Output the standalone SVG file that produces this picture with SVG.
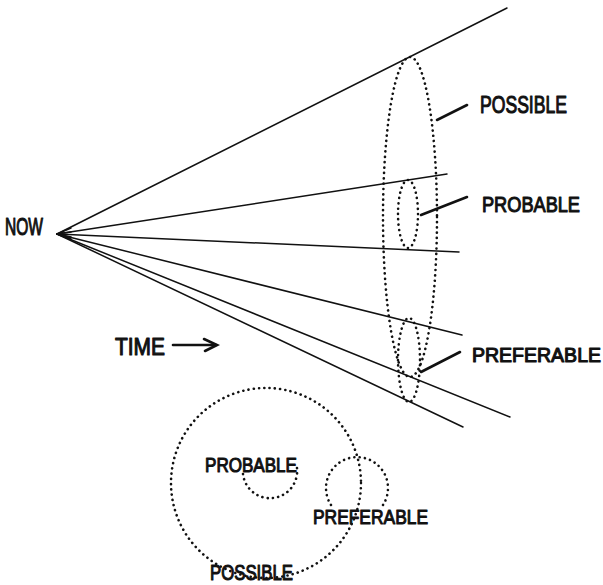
<svg xmlns="http://www.w3.org/2000/svg" width="603" height="585" viewBox="0 0 603 585">
<style>
.t{font-family:"Liberation Sans",Arial,sans-serif;fill:#111;stroke:#111;stroke-width:1.1;stroke-linejoin:round}
.ln{stroke:#111;stroke-width:1.5;fill:none;stroke-linecap:round}
.pt{stroke:#111;stroke-width:2.6;fill:none;stroke-linecap:round}
.dot{stroke:#111;stroke-width:2.6;fill:none;stroke-linecap:round;stroke-dasharray:0.1 5.2}
</style>
<rect width="603" height="585" fill="#fff"/>
<g id="connectors">
<line class="ln" x1="57" y1="234" x2="507" y2="8"/>
<line class="ln" x1="57" y1="234" x2="447" y2="174"/>
<line class="ln" x1="57" y1="234" x2="459" y2="252"/>
<line class="ln" x1="57" y1="234" x2="462" y2="335"/>
<line class="ln" x1="57" y1="234" x2="510" y2="417"/>
<line class="ln" x1="57" y1="234" x2="463" y2="427"/>
<path class="ln" d="M57,234 l14,-6 M57,234 l14,-2 M57,234 l14,3 M57,234 l14,5" stroke-width="2.5"/>
<line class="pt" x1="173" y1="345" x2="216" y2="345"/>
<path class="pt" d="M204,339 L217,345 L205,351"/>
<line class="pt" x1="437" y1="120" x2="467" y2="105"/>
<line class="pt" x1="421" y1="215" x2="467" y2="197"/>
<line class="pt" x1="421" y1="372" x2="460" y2="352"/>
</g>
<g id="now">
<text class="t" x="5" y="235" font-size="24" textLength="38" lengthAdjust="spacingAndGlyphs">NOW</text>
</g>
<g id="time">
<text class="t" x="115" y="355" font-size="24" textLength="50" lengthAdjust="spacingAndGlyphs">TIME</text>
</g>
<g id="possible">
<ellipse class="dot" cx="410" cy="217" rx="27" ry="160"/>
<text class="t" x="480" y="113" font-size="24" textLength="87" lengthAdjust="spacingAndGlyphs">POSSIBLE</text>
</g>
<g id="probable">
<ellipse class="dot" cx="408" cy="214" rx="10" ry="34"/>
<text class="t" x="482" y="212" font-size="22" textLength="98" lengthAdjust="spacingAndGlyphs">PROBABLE</text>
</g>
<g id="preferable">
<ellipse class="dot" cx="409" cy="360" rx="11" ry="42"/>
<text class="t" x="472" y="362" font-size="19.5" textLength="129" lengthAdjust="spacingAndGlyphs">PREFERABLE</text>
</g>
<g id="possible-set">
<circle class="dot" cx="266" cy="483" r="95"/>
<text class="t" x="210" y="580" font-size="22" textLength="83" lengthAdjust="spacingAndGlyphs">POSSIBLE</text>
</g>
<g id="probable-set">
<path class="dot" d="M243,474 A27,27 0 1 0 297,468"/>
<text class="t" x="205" y="472" font-size="21" textLength="92" lengthAdjust="spacingAndGlyphs">PROBABLE</text>
</g>
<g id="preferable-set">
<path class="dot" d="M331,505 A31,31 0 1 1 383,505"/>
<text class="t" x="313" y="524" font-size="21" textLength="115" lengthAdjust="spacingAndGlyphs">PREFERABLE</text>
</g>
</svg>
